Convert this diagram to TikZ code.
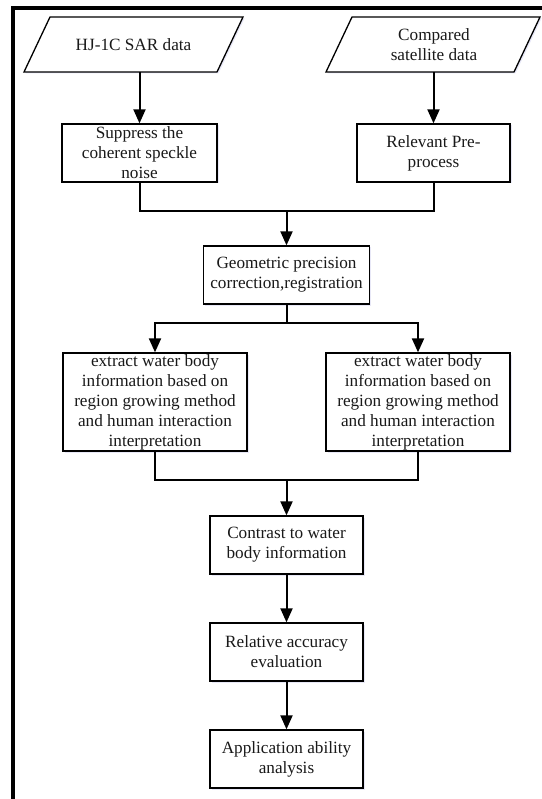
\documentclass[tikz,border=0pt]{standalone}
\usepackage{fontspec}
\setmainfont{Liberation Serif}
\usetikzlibrary{arrows.meta,calc,shadows}
\begin{document}
\begin{tikzpicture}[x=1pt,y=-1pt,
  txt/.style={inner sep=0pt, align=center, font=\fontsize{17.2}{20}\selectfont, text=black!90},
  box/.style={txt, draw, line width=1.3pt, fill=white,
     drop shadow={shadow xshift=1.5pt, shadow yshift=-1.5pt, opacity=0.12, fill=blue!50!gray}},
  conn/.style={line width=2pt},
  arr/.style={conn, -{Triangle[length=14pt,width=12pt]}}]
\useasboundingbox (0,0) rectangle (541,799);
% outer frame (left and top)
\draw[line width=4pt] (13,801) -- (13,8) -- (543,8);
% input parallelograms
\fill[blue!50!gray, opacity=0.12] (25.5,73.5) -- (51.5,18.5) -- (244.5,18.5) -- (218.5,73.5) -- cycle;
\draw[line width=1.3pt, fill=white] (24,72) -- (50,17) -- (243,17) -- (217,72) -- cycle;
\node[txt, minimum width=190pt, minimum height=55pt] (p1) at (133.5,44.5) {HJ-1C SAR data};
\fill[blue!50!gray, opacity=0.12] (327.5,73.5) -- (353.5,18.5) -- (541.5,18.5) -- (515.5,73.5) -- cycle;
\draw[line width=1.3pt, fill=white] (326,72) -- (352,17) -- (540,17) -- (514,72) -- cycle;
\node[txt, minimum width=188pt, minimum height=55pt] (p2) at (434,44.5) {Compared\\satellite data};
% process boxes
\node[box, minimum width=155pt, minimum height=58pt] (s1) at (139.5,153) {Suppress the\\coherent speckle\\noise};
\node[box, minimum width=153pt, minimum height=58pt] (s2) at (433.5,153) {Relevant Pre-\\process};
\node[box, minimum width=166pt, minimum height=58pt] (g) at (286.5,275) {Geometric precision\\correction,registration};
\node[box, minimum width=184pt, minimum height=98pt] (e1) at (155,402) {extract water body\\information based on\\region growing method\\and human interaction\\interpretation};
\node[box, minimum width=184pt, minimum height=98pt] (e2) at (418,402) {extract water body\\information based on\\region growing method\\and human interaction\\interpretation};
\node[box, minimum width=153pt, minimum height=58pt] (c) at (286.5,545) {Contrast to water\\body information};
\node[box, minimum width=153pt, minimum height=58pt] (r) at (286.5,652) {Relative accuracy\\evaluation};
\node[box, minimum width=153pt, minimum height=58pt] (a) at (286.5,759) {Application ability\\analysis};
% connectors
\draw[arr] (s1.north |- p1.south) -- (s1.north);
\draw[arr] (s2.north |- p2.south) -- (s2.north);
\coordinate (m1) at (286.5,211);
\draw[conn] (s1.south) -- (s1.south |- m1) -- (s2.south |- m1) -- (s2.south);
\draw[arr] (m1) -- (g.north);
\coordinate (sp) at (286.5,323);
\draw[conn] (g.south) -- (sp);
\draw[arr] (sp) -| (e1.north);
\draw[arr] (sp) -| (e2.north);
\coordinate (m2) at (286.5,480);
\draw[conn] (e1.south) -- (e1.south |- m2) -- (e2.south |- m2) -- (e2.south);
\draw[arr] (m2) -- (c.north);
\draw[arr] (c.south) -- (r.north);
\draw[arr] (r.south) -- (a.north);
\end{tikzpicture}
\end{document}
